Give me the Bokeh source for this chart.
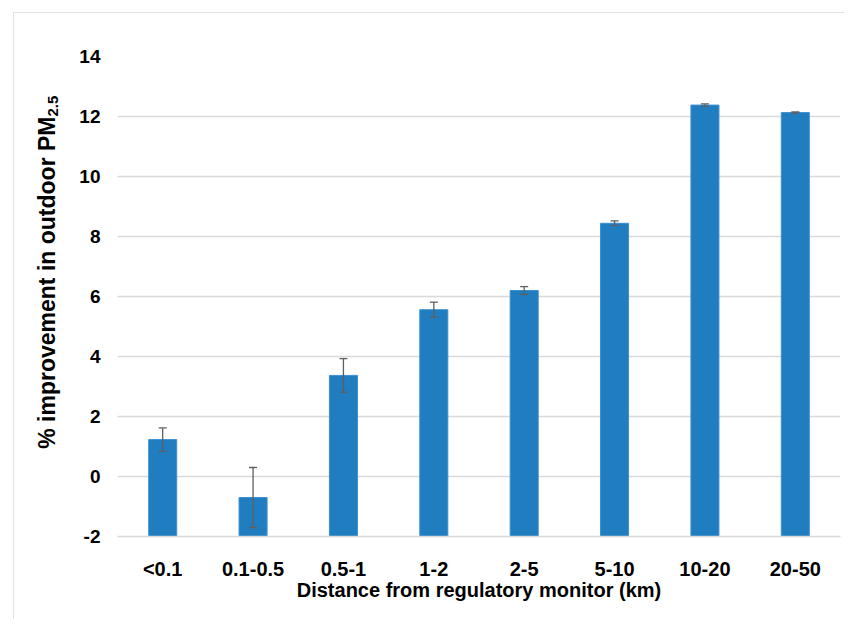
import math
from bokeh.plotting import figure
from bokeh.layouts import row
from bokeh.models import (ColumnDataSource, FactorRange, Range1d, FixedTicker, Whisker, TeeHead,
                          PrintfTickFormatter, Label)
from bokeh.embed import file_html
from bokeh.resources import INLINE

categories = ["<0.1", "0.1-0.5", "0.5-1", "1-2", "2-5", "5-10", "10-20", "20-50"]
values = [1.23, -0.70, 3.37, 5.56, 6.20, 8.44, 12.38, 12.13]
errors = [0.39, 1.00, 0.56, 0.25, 0.13, 0.08, 0.04, 0.02]
y_ticks = [-2, 0, 2, 4, 6, 8, 10, 12, 14]
y_title_main = "% improvement in outdoor PM"
y_title_sub = "2.5"
x_title = "Distance from regulatory monitor (km)"

src = ColumnDataSource(dict(
    x=categories,
    top=values,
    upper=[v + e for v, e in zip(values, errors)],
    lower=[v - e for v, e in zip(values, errors)],
))

y_range = Range1d(-2, 14)
TOP, BOTTOM, H = 43, 83, 606

# narrow panel holding the rotated y-axis title (with subscript)
pt = figure(x_range=Range1d(0, 1), y_range=y_range, width=60, height=H,
            output_backend="svg", toolbar_location=None,
            x_axis_location=None, y_axis_location=None,
            min_border_left=0, min_border_right=0,
            min_border_top=TOP, min_border_bottom=BOTTOM)
pt.outline_line_color = None
pt.grid.visible = False
anchor_y = 12.0
pt.add_layout(Label(x=32, y=anchor_y, x_units="screen", y_units="data",
                    text=y_title_main, angle=math.pi / 2,
                    text_align="right", text_baseline="middle",
                    text_font="Liberation Sans", text_font_style="bold",
                    text_font_size="23px", text_color="#000000"))
pt.add_layout(Label(x=38, y=anchor_y, x_units="screen", y_units="data",
                    text=y_title_sub, angle=math.pi / 2,
                    text_align="left", text_baseline="middle",
                    text_font="Liberation Sans", text_font_style="bold",
                    text_font_size="15px", text_color="#000000"))

p = figure(
    x_range=FactorRange(*categories),
    y_range=y_range,
    width=770, height=H,
    output_backend="svg", toolbar_location=None,
    min_border_left=43, min_border_right=4, min_border_top=TOP, min_border_bottom=BOTTOM,
)
p.outline_line_color = None

p.vbar(x="x", top="top", bottom=-2, width=0.31, source=src,
       fill_color="#1f7dc0", line_color="#3a8fd0", line_width=1)

w = Whisker(base="x", upper="upper", lower="lower", source=src, level="overlay",
            line_color="#5f5f5f", line_width=1.3,
            upper_head=TeeHead(size=8, line_color="#5f5f5f", line_width=1.3),
            lower_head=TeeHead(size=8, line_color="#5f5f5f", line_width=1.3))
p.add_layout(w)

p.yaxis.ticker = FixedTicker(ticks=y_ticks)
p.yaxis.formatter = PrintfTickFormatter(format="%d")
p.ygrid.ticker = FixedTicker(ticks=y_ticks)
p.ygrid.grid_line_color = "#d9d9d9"
p.ygrid.grid_line_width = 1.5
p.xgrid.grid_line_color = None

for ax in (p.xaxis[0], p.yaxis[0]):
    ax.major_tick_in = 0
    ax.major_tick_out = 0
    ax.minor_tick_in = 0
    ax.minor_tick_out = 0
    ax.major_label_text_font = "Liberation Sans"
    ax.major_label_text_font_style = "bold"
    ax.major_label_text_font_size = "19px"
    ax.major_label_text_color = "#000000"
    ax.axis_label_text_font = "Liberation Sans"
    ax.axis_label_text_font_style = "bold"
    ax.axis_label_text_font_size = "20px"
    ax.axis_label_text_color = "#000000"
p.xaxis.major_label_text_font_size = "20px"

p.yaxis.axis_line_color = None
p.xaxis.axis_line_color = "#d9d9d9"
p.xaxis.axis_line_width = 1.5
p.yaxis.major_label_standoff = 17
p.xaxis.major_label_standoff = 21
p.xaxis.axis_label = x_title
p.xaxis.axis_label_standoff = -4

layout = row(pt, p, spacing=0,
             styles={"margin-left": "13px", "margin-top": "12px",
                     "border-left": "1px solid #e2e2e2", "border-top": "1px solid #e2e2e2"})

open("out.html", "w").write(file_html(layout, INLINE))
